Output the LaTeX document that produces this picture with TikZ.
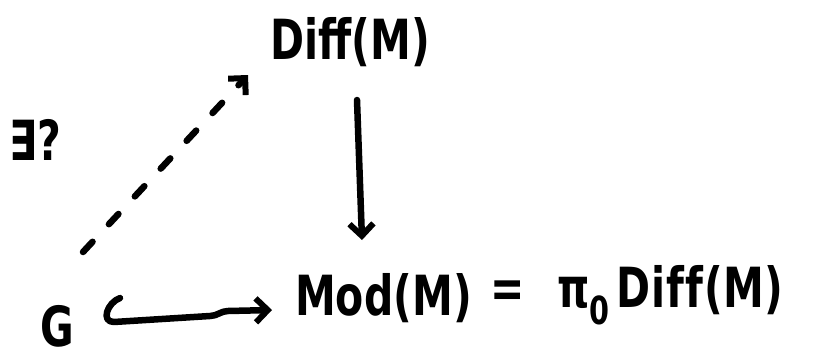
\documentclass[tikz,border=0pt]{standalone}
\usepackage{fontspec}
\usepackage{graphicx}
\setmainfont{DejaVu Sans}
\usetikzlibrary{arrows.meta}
\newcommand{\tallt}[1]{\scalebox{1}[1.35]{#1}}
\tikzset{
  lbl/.style={inner sep=0pt, font=\bfseries\fontsize{41}{44}\selectfont},
  tip/.tip={Straight Barb[length=12pt,width=24pt,line width=6pt]},
  arr/.style={line width=6.5pt, line cap=round, line join=round, -tip},
  dasharr/.style={arr, dash pattern=on 14pt off 24pt},
}
\begin{document}
\begin{tikzpicture}[x=1pt,y=-1pt]
\useasboundingbox (0,0) rectangle (813,359);
\node[lbl] (diff) at (350,42) {\tallt{Diff(M)}};
\node[lbl] (ex) at (35,140) {\tallt{∃?}};
\node[lbl] (g) at (57,326) {\tallt{G}};
\node[lbl, anchor=west] (mod) at (295,298) {\tallt{Mod(M)}};
\node[lbl, anchor=west] (rhs) at (490,295) {\tallt{=\;\, π\textsubscript{0}\,D\kern1pt i\kern1pt f\kern1pt f\kern1pt(M)}};
\coordinate (a1) at (357,100);
\coordinate (a2) at (362,240);
\draw[arr] (a1) -- (a2);
\coordinate (h1) at (114,322);
\coordinate (h2) at (272,310);
\draw[arr] (120,298) to[out=200,in=180,looseness=1.4] (h1) -- (210,316) to[out=0,in=180] (228,311) -- (h2);
\coordinate (d1) at (83,252);
\coordinate (d2) at (248,75);
\draw[dasharr] (d1) -- (d2);
\end{tikzpicture}
\end{document}
